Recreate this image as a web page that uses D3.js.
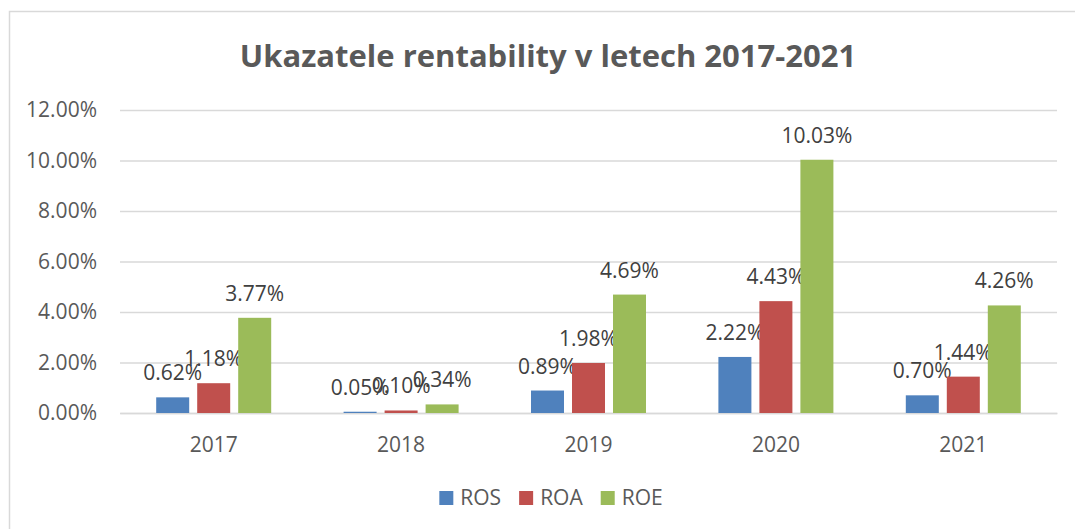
<!DOCTYPE html>
<html lang="cs">
<head>
    <meta charset="UTF-8">
    <script src="https://cdn.jsdelivr.net/npm/d3@7/dist/d3.min.js"></script>
    <title>Ukazatele rentability</title>
    <style>
        body { margin: 0; background: #fff; }
        text { font-family: "Open Sans", sans-serif; }
    </style>
</head>
<body>
</body>
<script>

    // data
    let years = ["2017", "2018", "2019", "2020", "2021"]
    let series = ["ROS", "ROA", "ROE"]
    let ros = [0.62, 0.05, 0.89, 2.22, 0.70]
    let roa = [1.18, 0.10, 1.98, 4.43, 1.44]
    let roe = [3.77, 0.34, 4.69, 10.03, 4.26]
    let yTicks = [0, 2, 4, 6, 8, 10, 12]
    let colors = ["#4F81BD", "#C0504D", "#9BBB59"]

    let values = [ros, roa, roe]

    let width = 1075,
        height = 529,
        plotLeft = 120,
        plotRight = 1057,
        plotTop = 110,
        plotBottom = 413

    let x = d3.scaleBand()
        .domain(years)
        .range([plotLeft, plotRight])

    let inner = d3.scaleBand()
        .domain(series)
        .range([(x.bandwidth() - 123) / 2, (x.bandwidth() + 123) / 2])
        .paddingInner(8 / 41)
        .paddingOuter(4 / 41)

    let y = d3.scaleLinear()
        .domain([0, 12])
        .range([plotBottom, plotTop])

    let svg = d3.select("body")
        .append("svg")
        .attr("width", width)
        .attr("height", height)

    // chart border
    svg.append("rect")
        .attr("x", 9.5)
        .attr("y", 11.5)
        .attr("width", 1085)
        .attr("height", 530)
        .attr("fill", "#fff")
        .attr("stroke", "#d9d9d9")
        .attr("stroke-width", 1.5)

    // title
    svg.append("text")
        .attr("x", 548)
        .attr("y", 67)
        .attr("text-anchor", "middle")
        .attr("font-size", 31)
        .attr("font-weight", "bold")
        .attr("fill", "#595959")
        .text("Ukazatele rentability v letech 2017-2021")

    // y axis + gridlines
    let yAxis = d3.axisLeft(y)
        .tickValues(yTicks)
        .tickSize(-(plotRight - plotLeft))
        .tickPadding(23)
        .tickFormat(d => d.toFixed(2) + "%")

    let gy = svg.append("g")
        .attr("transform", `translate(${plotLeft},0)`)
        .call(yAxis)
    gy.select(".domain").remove()
    gy.selectAll(".tick line")
        .attr("stroke", "#d9d9d9")
        .attr("stroke-width", 1.5)
    gy.selectAll(".tick text")
        .attr("font-size", 21)
        .attr("font-family", "Open Sans, sans-serif")
        .attr("fill", "#595959")

    // x axis
    let xAxis = d3.axisBottom(x)
        .tickSize(0)
        .tickPadding(24)

    let gx = svg.append("g")
        .attr("transform", `translate(0,${plotBottom})`)
        .call(xAxis)
    gx.select(".domain")
        .attr("stroke", "#d9d9d9")
        .attr("stroke-width", 1.5)
    gx.selectAll(".tick text")
        .attr("font-size", 21)
        .attr("font-family", "Open Sans, sans-serif")
        .attr("fill", "#595959")

    // bars
    let groups = svg.append("g").selectAll("g")
        .data(years)
        .enter()
        .append("g")
        .attr("transform", d => `translate(${x(d)},0)`)

    let cells = groups.selectAll("g")
        .data((yr, i) => series.map((s, j) => ({s: s, v: values[j][i], c: colors[j]})))
        .enter()
        .append("g")

    cells.append("rect")
        .attr("x", d => inner(d.s))
        .attr("y", d => y(d.v))
        .attr("width", inner.bandwidth())
        .attr("height", d => plotBottom - y(d.v))
        .attr("fill", d => d.c)

    cells.append("text")
        .attr("x", d => inner(d.s) + inner.bandwidth() / 2)
        .attr("y", d => y(d.v) - 17)
        .attr("text-anchor", "middle")
        .attr("font-size", 21)
        .attr("fill", "#404040")
        .text(d => d.v.toFixed(2) + "%")

    // legend
    let legend = svg.append("g")
    let lx = 0
    series.forEach(function (s, j) {
        let item = legend.append("g").attr("transform", `translate(${lx},0)`)
        item.append("rect")
            .attr("x", 0)
            .attr("y", -14)
            .attr("width", 14)
            .attr("height", 14)
            .attr("fill", colors[j])
        let t = item.append("text")
            .attr("x", 21)
            .attr("y", 0)
            .attr("font-size", 21)
            .attr("fill", "#595959")
            .text(s)
        lx += 21 + t.node().getComputedTextLength() + 18
    })
    let lw = lx - 18
    legend.attr("transform", `translate(${551 - lw / 2},505)`)

</script>
</html>
